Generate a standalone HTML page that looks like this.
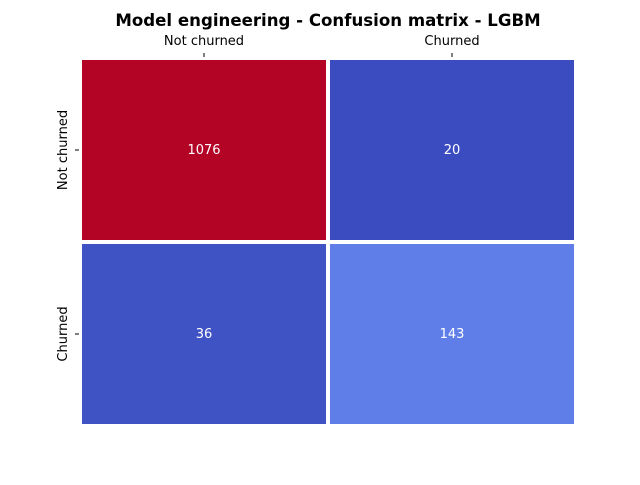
<!DOCTYPE html>
<html><head><meta charset="utf-8"><style>
body{margin:0;background:#fff}
svg text{font-family:"DejaVu Sans","Liberation Sans",sans-serif}
</style></head><body>
<svg id="chart" width="640" height="480">
<text x="328" y="26" font-size="16.6" font-weight="bold" text-anchor="middle">Model engineering - Confusion matrix - LGBM</text>
<g id="cells"></g>
</svg>
<script>
const categories = ["Not churned", "Churned"];
const values = [[1076, 20], [36, 143]];
const stops = ["#3b4cc0","#6282ea","#7b9ff9","#9ebeff","#c0d4f5","#dddcdc","#f2cbb7","#f7a889","#ee8468","#e36a53","#c43032","#b40426"];
const L=80,T=58,W=496,H=368;
function lerp(a,b,t){return Math.round(a+(b-a)*t);}
function hex(h){return [1,3,5].map(i=>parseInt(h.substr(i,2),16));}
function color(v,mn,mx){
  let t=(v-mn)/(mx-mn);t=Math.max(0,Math.min(1,t));
  const stopsPos=[0,0.125,0.25,0.375,0.5,0.5001,0.625,0.75,0.8125,0.875,0.95,1];
  let i=0;while(i<stopsPos.length-2&&t>stopsPos[i+1])i++;
  const f=(t-stopsPos[i])/((stopsPos[i+1]-stopsPos[i])||1);
  const a=hex(stops[i]),b=hex(stops[i+1]);
  return `rgb(${lerp(a[0],b[0],f)},${lerp(a[1],b[1],f)},${lerp(a[2],b[2],f)})`;
}
const flat=values.flat(),mn=Math.min(...flat),mx=Math.max(...flat);
const n=categories.length,cw=W/n,ch=H/n;
const xs=i=>L+i*cw, ys=j=>T+j*ch;
const g=document.getElementById('cells'),svg=document.getElementById('chart');
const NS="http://www.w3.org/2000/svg";
function mk(tag,attrs,parent){const e=document.createElementNS(NS,tag);for(const k in attrs)e.setAttribute(k,attrs[k]);(parent||svg).appendChild(e);return e;}
for(let r=0;r<n;r++)for(let c=0;c<n;c++){
  const rect=mk('rect',{x:xs(c),y:ys(r),width:cw,height:ch,fill:color(values[r][c],mn,mx),stroke:'#fff','stroke-width':4},g);
  
  
  const t=mk('text',{x:xs(c)+cw/2,y:ys(r)+ch/2+4,'font-size':13,fill:'#fff','text-anchor':'middle'});
  t.textContent=values[r][c];
  
  
}
mk('rect',{x:L-2,y:T-2,width:W+4,height:H+4,fill:'none',stroke:'#fff','stroke-width':4});
for(let i=0;i<n;i++){
  const cx=xs(i)+cw/2;
  mk('line',{x1:cx,x2:cx,y1:T-5,y2:T-1,stroke:'#000','stroke-width':1});
  const t=mk('text',{x:cx,y:T-13,'font-size':13,'text-anchor':'middle'});
  t.textContent=categories[i];
  
  
  const cy=ys(i)+ch/2;
  mk('line',{x1:L-5,x2:L-1,y1:cy,y2:cy,stroke:'#000','stroke-width':1});
  const ty=mk('text',{x:0,y:0,'font-size':13,'text-anchor':'middle',transform:`translate(67,${cy}) rotate(-90)`});
  ty.textContent=categories[i];
  
  
}
</script>
</body></html>
